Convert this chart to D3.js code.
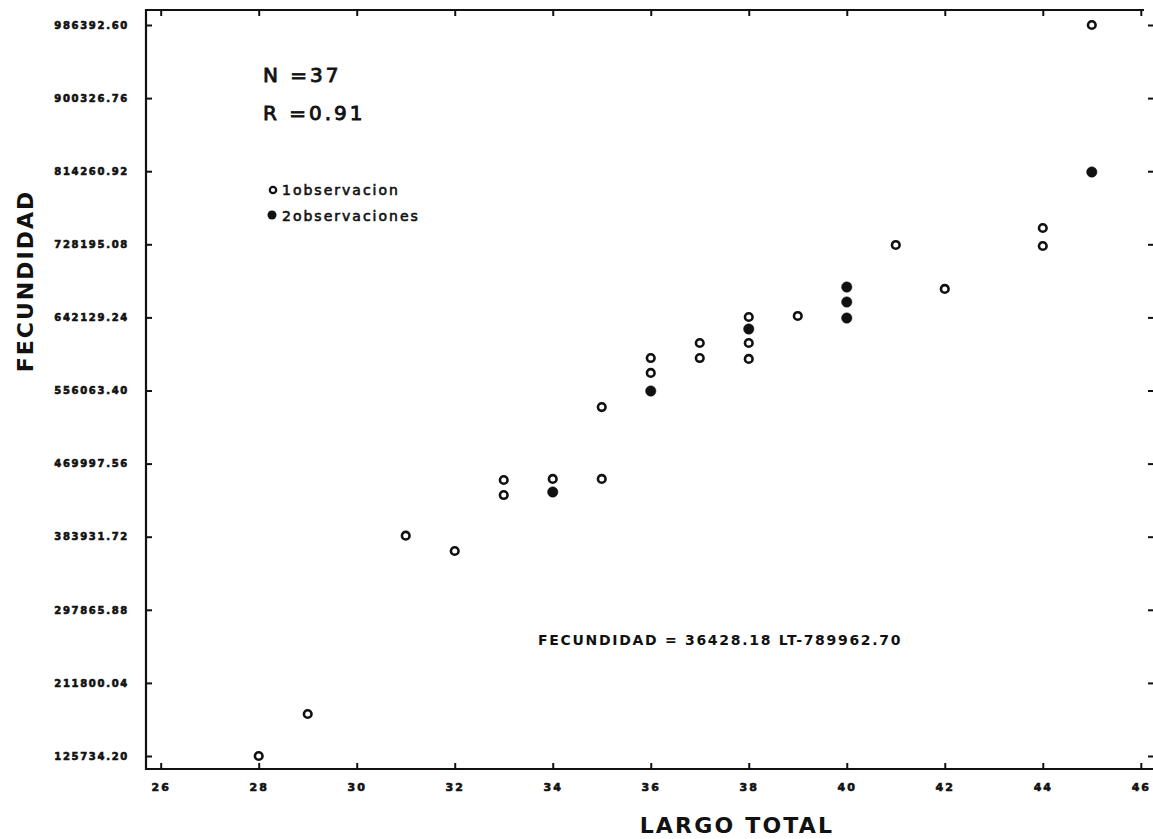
<!DOCTYPE html>
<html>
<head>
<meta charset="utf-8">
<script src="https://cdn.jsdelivr.net/npm/d3@7"></script>
<style>
  html, body { margin: 0; padding: 0; background: #fff; }
  svg { display: block; }
  .tick text { font-family: "DejaVu Sans", sans-serif; font-weight: bold; fill: #111; stroke: #111; stroke-width: 0.6px; }
  .tick line { stroke: #111; stroke-width: 2; }
</style>
</head>
<body>
<svg id="chart" width="1153" height="839"></svg>
<script>
// Largo total (cm) of each female and her fecundidad (number of eggs)
const largo = [
  28, 29, 31, 32,
  33, 33,
  34, 34,
  35, 35,
  36, 36, 36,
  37, 37,
  38, 38, 38, 38,
  39,
  40, 40, 40,
  41, 42,
  44, 44,
  45, 45
];
const fecundidad = [
  125734.2, 175200, 385100, 367100,
  450700, 433000,
  451900, 436600,
  536600, 451900,
  594300, 576700, 555500,
  612000, 594300,
  642600, 628500, 612000, 593200,
  643800,
  677900, 660300, 641400,
  727400, 675600,
  747400, 726200,
  986392.6, 813300
];
// observations at each plotted position (1 = open circle, 2 = filled circle)
const observaciones = [
  1, 1, 1, 1,
  1, 1,
  1, 2,
  1, 1,
  1, 1, 2,
  1, 1,
  1, 2, 1, 1,
  1,
  2, 2, 2,
  1, 1,
  1, 1,
  1, 2
];

const xTicks = [26, 28, 30, 32, 34, 36, 38, 40, 42, 44, 46];
const yTicks = [125734.20, 211800.04, 297865.88, 383931.72, 469997.56,
                556063.40, 642129.24, 728195.08, 814260.92, 900326.76, 986392.60];
const yTickLabels = ["125734.20", "211800.04", "297865.88", "383931.72", "469997.56",
                     "556063.40", "642129.24", "728195.08", "814260.92", "900326.76", "986392.60"];

const svg = d3.select("#chart");
const frame = { left: 146, top: 10, right: 1155, bottom: 769 };

const x = d3.scaleLinear().domain([26, 46]).range([160.7, 1140.8]);
const y = d3.scaleLinear().domain([125734.2, 986392.6]).range([756, 25]);

// frame lines
const g = svg.append("g");
g.append("line").attr("x1", frame.left).attr("x2", frame.left)
  .attr("y1", frame.top - 1).attr("y2", frame.bottom + 1)
  .attr("stroke", "#111").attr("stroke-width", 2.2);
g.append("line").attr("x1", frame.left - 1).attr("x2", frame.right)
  .attr("y1", frame.bottom).attr("y2", frame.bottom)
  .attr("stroke", "#111").attr("stroke-width", 2.2);
g.append("line").attr("x1", frame.left - 1).attr("x2", 1144)
  .attr("y1", frame.top).attr("y2", frame.top)
  .attr("stroke", "#111").attr("stroke-width", 2.2);

// axes, ticks pointing inward
const fmtY = (d) => yTickLabels[yTicks.indexOf(d)];

const axL = svg.append("g").attr("transform", `translate(${frame.left},0)`)
  .call(d3.axisLeft(y).tickValues(yTicks).tickFormat(fmtY).tickSize(-6).tickPadding(17));
axL.select(".domain").remove();
axL.selectAll("text").style("font-size", "10px").style("letter-spacing", "1.7px");

const axB = svg.append("g").attr("transform", `translate(0,${frame.bottom})`)
  .call(d3.axisBottom(x).tickValues(xTicks).tickFormat(d3.format("d")).tickSize(-6).tickPadding(14));
axB.select(".domain").remove();
axB.selectAll("text").style("font-size", "11px").style("letter-spacing", "2px");

const axT = svg.append("g").attr("transform", `translate(0,${frame.top})`)
  .call(d3.axisTop(x).tickValues(xTicks).tickFormat("").tickSize(-6));
axT.select(".domain").remove();

const axR = svg.append("g").attr("transform", `translate(${frame.right},0)`)
  .call(d3.axisRight(y).tickValues(yTicks).tickFormat("").tickSize(-7));
axR.select(".domain").remove();

// axis titles
svg.append("text")
  .attr("transform", "translate(33,281) rotate(-90)")
  .attr("text-anchor", "middle")
  .style("font-family", "'DejaVu Sans', sans-serif")
  .style("font-weight", "bold")
  .style("font-size", "22px")
  .style("letter-spacing", "2px")
  .attr("fill", "#111")
  .text("FECUNDIDAD");

svg.append("text")
  .attr("x", 737).attr("y", 833)
  .attr("text-anchor", "middle")
  .style("font-family", "'DejaVu Sans', sans-serif")
  .style("font-weight", "bold")
  .style("font-size", "22px")
  .style("letter-spacing", "2.2px")
  .attr("fill", "#111")
  .text("LARGO TOTAL");

// points
const pts = largo.map((l, i) => ({ l, f: fecundidad[i], n: observaciones[i] }));
svg.append("g").selectAll("circle").data(pts).join("circle")
  .attr("cx", d => x(d.l))
  .attr("cy", d => y(d.f))
  .attr("r", d => d.n === 2 ? 5.2 : 3.8)
  .attr("fill", d => d.n === 2 ? "#111" : "#fff")
  .attr("stroke", "#111")
  .attr("stroke-width", d => d.n === 2 ? 0.5 : 2.6);

// statistics
const stat = svg.append("g")
  .style("font-family", "'DejaVu Sans', sans-serif")
  .style("font-size", "20px")
  .style("letter-spacing", "3px")
  .attr("fill", "#111")
  .attr("stroke", "#111")
  .attr("stroke-width", 0.9);
stat.append("text").attr("x", 263).attr("y", 82).text("N =37");
stat.append("text").attr("x", 263).attr("y", 120).text("R =0.91");

// legend
const leg = svg.append("g")
  .style("font-family", "'DejaVu Sans', sans-serif")
  .style("font-size", "14px")
  .style("letter-spacing", "2px")
  .attr("fill", "#111");
leg.append("circle").attr("cx", 273).attr("cy", 190).attr("r", 3.2)
  .attr("fill", "#fff").attr("stroke", "#111").attr("stroke-width", 2.2);
leg.append("circle").attr("cx", 272).attr("cy", 215).attr("r", 4.5).attr("fill", "#111");
leg.append("text").attr("x", 282).attr("y", 195)
  .attr("stroke", "#111").attr("stroke-width", 0.6).text("1observacion");
leg.append("text").attr("x", 282).attr("y", 221)
  .attr("stroke", "#111").attr("stroke-width", 0.6).text("2observaciones");

// regression equation
svg.append("text")
  .attr("x", 538).attr("y", 645)
  .style("font-family", "'DejaVu Sans', sans-serif")
  .style("font-weight", "bold")
  .style("font-size", "14px")
  .style("letter-spacing", "1.7px")
  .attr("fill", "#111")
  .text("FECUNDIDAD = 36428.18 LT-789962.70");
</script>
</body>
</html>
